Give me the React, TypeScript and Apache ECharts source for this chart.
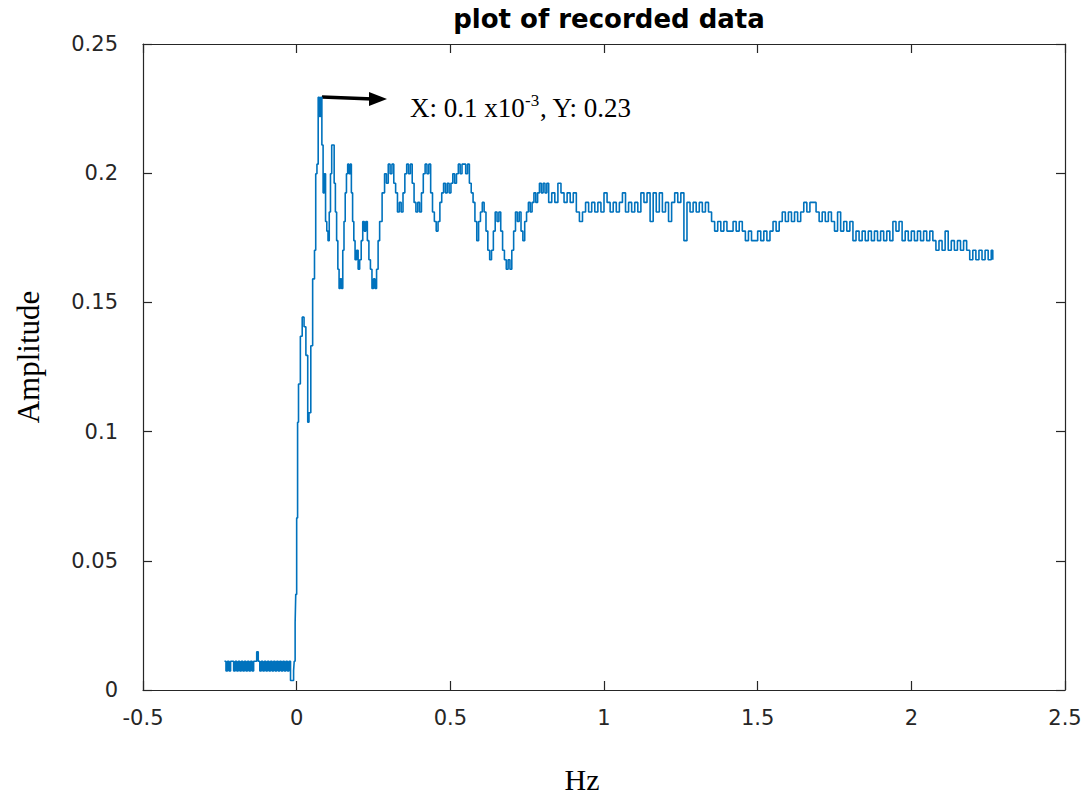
import React, { useEffect, useRef } from "react";
import * as echarts from "echarts";

const titleText = "plot of recorded data";
const xAxisName = "Hz";
const yAxisName = "Amplitude";
const annotationMain = "X: 0.1 x10";
const annotationSup = "-3";
const annotationTail = ", Y: 0.23";

// frequency samples (Hz)
const hz: number[] = [
  -0.235, -0.23, -0.225, -0.22, -0.215, -0.21, -0.205, -0.2, -0.195, -0.19,
  -0.185, -0.18, -0.175, -0.17, -0.165, -0.16, -0.155, -0.15, -0.145, -0.14,
  -0.135, -0.13, -0.125, -0.12, -0.115, -0.11, -0.105, -0.1, -0.095, -0.09,
  -0.085, -0.08, -0.075, -0.07, -0.065, -0.06, -0.055, -0.05, -0.045, -0.04,
  -0.035, -0.03, -0.025, -0.02, -0.015, -0.01, -0.008, -0.005, -0.003, 0.0,
  0.003, 0.006, 0.012, 0.018, 0.024, 0.03, 0.036, 0.04, 0.046, 0.052,
  0.058, 0.062, 0.066, 0.07, 0.074, 0.078, 0.082, 0.086, 0.09, 0.094,
  0.098, 0.102, 0.106, 0.11, 0.114, 0.118, 0.122, 0.126, 0.13, 0.134,
  0.138, 0.142, 0.146, 0.15, 0.154, 0.158, 0.162, 0.166, 0.17, 0.174,
  0.178, 0.182, 0.186, 0.19, 0.195, 0.2, 0.205, 0.21, 0.215, 0.22,
  0.225, 0.23, 0.235, 0.24, 0.245, 0.25, 0.255, 0.26, 0.265, 0.27,
  0.278, 0.286, 0.292, 0.298, 0.304, 0.31, 0.316, 0.322, 0.328, 0.334,
  0.34, 0.346, 0.352, 0.358, 0.364, 0.37, 0.376, 0.382, 0.388, 0.394,
  0.4, 0.406, 0.412, 0.418, 0.424, 0.43, 0.436, 0.442, 0.448, 0.454,
  0.46, 0.466, 0.472, 0.478, 0.484, 0.49, 0.496, 0.502, 0.508, 0.514,
  0.52, 0.526, 0.532, 0.538, 0.544, 0.55, 0.556, 0.562, 0.568, 0.574,
  0.58, 0.586, 0.592, 0.598, 0.604, 0.61, 0.616, 0.622, 0.628, 0.634,
  0.64, 0.646, 0.652, 0.658, 0.664, 0.67, 0.676, 0.682, 0.688, 0.694,
  0.7, 0.706, 0.712, 0.718, 0.724, 0.73, 0.736, 0.742, 0.748, 0.754,
  0.76, 0.766, 0.772, 0.778, 0.784, 0.79, 0.796, 0.802, 0.808, 0.814,
  0.82, 0.83, 0.84, 0.85, 0.86, 0.87, 0.88, 0.89, 0.9, 0.91,
  0.92, 0.93, 0.94, 0.95, 0.96, 0.97, 0.98, 0.99, 1.0, 1.01,
  1.02, 1.03, 1.04, 1.05, 1.06, 1.07, 1.08, 1.09, 1.1, 1.11,
  1.12, 1.13, 1.14, 1.15, 1.16, 1.17, 1.18, 1.19, 1.2, 1.21,
  1.22, 1.23, 1.24, 1.25, 1.26, 1.27, 1.28, 1.29, 1.3, 1.31,
  1.32, 1.33, 1.34, 1.35, 1.36, 1.37, 1.38, 1.39, 1.4, 1.41,
  1.42, 1.43, 1.44, 1.45, 1.46, 1.47, 1.48, 1.49, 1.5, 1.51,
  1.52, 1.53, 1.54, 1.55, 1.56, 1.57, 1.58, 1.59, 1.6, 1.61,
  1.62, 1.63, 1.64, 1.65, 1.66, 1.67, 1.68, 1.69, 1.7, 1.71,
  1.72, 1.73, 1.74, 1.75, 1.76, 1.77, 1.78, 1.79, 1.8, 1.81,
  1.82, 1.83, 1.84, 1.85, 1.86, 1.87, 1.88, 1.89, 1.9, 1.91,
  1.92, 1.93, 1.94, 1.95, 1.96, 1.97, 1.98, 1.99, 2.0, 2.01,
  2.02, 2.03, 2.04, 2.05, 2.06, 2.07, 2.08, 2.09, 2.1, 2.11,
  2.12, 2.13, 2.14, 2.15, 2.16, 2.17, 2.18, 2.19, 2.2, 2.21,
  2.22, 2.23, 2.24, 2.25, 2.26, 2.265,
];

// recorded amplitude at each sample
const amplitude: number[] = [
  0.0111, 0.0074, 0.0111, 0.0074, 0.0111, 0.0111, 0.0074, 0.0111, 0.0074, 0.0111,
  0.0074, 0.0111, 0.0074, 0.0111, 0.0074, 0.0111, 0.0074, 0.0111, 0.0074, 0.0111,
  0.0111, 0.0148, 0.0111, 0.0074, 0.0111, 0.0074, 0.0111, 0.0074, 0.0111, 0.0074,
  0.0111, 0.0074, 0.0111, 0.0074, 0.0111, 0.0074, 0.0111, 0.0074, 0.0111, 0.0074,
  0.0111, 0.0074, 0.0111, 0.0037, 0.0037, 0.0074, 0.0111, 0.0259, 0.037, 0.0666,
  0.1036, 0.1184, 0.1369, 0.1443, 0.1406, 0.1295, 0.1036, 0.1073, 0.1332, 0.1591,
  0.1702, 0.1998, 0.2035, 0.2294, 0.222, 0.2294, 0.2109, 0.1924, 0.1998, 0.1813,
  0.1776, 0.1739, 0.185, 0.1998, 0.2109, 0.2109, 0.1961, 0.185, 0.1739, 0.1628,
  0.1554, 0.1591, 0.1554, 0.1702, 0.1813, 0.1924, 0.1998, 0.2035, 0.1998, 0.2035,
  0.1924, 0.1813, 0.1739, 0.1665, 0.1702, 0.1628, 0.1665, 0.1739, 0.1813, 0.1776,
  0.1813, 0.1739, 0.1665, 0.1628, 0.1554, 0.1591, 0.1554, 0.1628, 0.1739, 0.1813,
  0.1924, 0.1998, 0.1961, 0.2035, 0.1998, 0.2035, 0.1961, 0.1924, 0.185, 0.1887,
  0.185, 0.1924, 0.1998, 0.2035, 0.1998, 0.2035, 0.1961, 0.1887, 0.185, 0.1887,
  0.185, 0.1924, 0.1998, 0.2035, 0.1998, 0.2035, 0.1924, 0.185, 0.1813, 0.1776,
  0.1813, 0.1887, 0.1924, 0.1961, 0.1924, 0.1961, 0.1924, 0.1961, 0.1998, 0.1961,
  0.1998, 0.2035, 0.1998, 0.2035, 0.2035, 0.1998, 0.2035, 0.1961, 0.1924, 0.1887,
  0.1813, 0.1739, 0.1813, 0.185, 0.1887, 0.185, 0.1776, 0.1702, 0.1665, 0.1702,
  0.1776, 0.185, 0.1813, 0.185, 0.1776, 0.1702, 0.1665, 0.1628, 0.1665, 0.1628,
  0.1702, 0.1776, 0.185, 0.1813, 0.185, 0.1776, 0.1739, 0.1813, 0.185, 0.1887,
  0.185, 0.1887, 0.1924, 0.1887, 0.1924, 0.1961, 0.1924, 0.1961, 0.1924, 0.1961,
  0.1887, 0.1924, 0.1887, 0.1961, 0.1924, 0.1887, 0.1924, 0.1887, 0.1924, 0.185,
  0.1813, 0.185, 0.1887, 0.185, 0.1887, 0.185, 0.1887, 0.185, 0.1924, 0.1887,
  0.185, 0.1887, 0.185, 0.1887, 0.1924, 0.185, 0.1887, 0.185, 0.1887, 0.185,
  0.1924, 0.1887, 0.1924, 0.1813, 0.1924, 0.185, 0.1924, 0.185, 0.1887, 0.1813,
  0.1887, 0.1924, 0.1887, 0.1924, 0.1739, 0.1887, 0.185, 0.1887, 0.185, 0.1887,
  0.185, 0.1887, 0.185, 0.1813, 0.1776, 0.1813, 0.1776, 0.1813, 0.1776, 0.1776,
  0.1813, 0.1776, 0.1813, 0.1776, 0.1739, 0.1776, 0.1739, 0.1739, 0.1776, 0.1739,
  0.1776, 0.1739, 0.1776, 0.1813, 0.1776, 0.1813, 0.185, 0.1813, 0.185, 0.1813,
  0.185, 0.1813, 0.185, 0.1887, 0.185, 0.1887, 0.1887, 0.185, 0.1813, 0.185,
  0.1813, 0.185, 0.1813, 0.1776, 0.185, 0.1776, 0.1813, 0.1776, 0.1813, 0.1739,
  0.1776, 0.1739, 0.1776, 0.1739, 0.1776, 0.1739, 0.1776, 0.1739, 0.1776, 0.1739,
  0.1776, 0.1739, 0.1813, 0.1776, 0.1813, 0.1739, 0.1776, 0.1739, 0.1776, 0.1739,
  0.1776, 0.1739, 0.1776, 0.1739, 0.1776, 0.1739, 0.1702, 0.1739, 0.1702, 0.1776,
  0.1702, 0.1739, 0.1702, 0.1739, 0.1702, 0.1739, 0.1702, 0.1665, 0.1702, 0.1665,
  0.1702, 0.1665, 0.1702, 0.1665, 0.1702, 0.1665,
];

const xTicks = { min: -0.5, max: 2.5, interval: 0.5 };
const yTicks = { min: 0, max: 0.25, interval: 0.05 };

export default function App() {
  const ref = useRef<HTMLDivElement>(null);
  useEffect(() => {
    if (!ref.current) return;
    const chart = echarts.init(ref.current, null, { renderer: "svg" });
    const points = hz.map((x, i) => [x, amplitude[i]]);
    const axisColor = "#262626";
    const labelFont = "'DejaVu Sans', Arial, sans-serif";
    const serif = "'Liberation Serif', 'Times New Roman', serif";
    const lineStyle = { color: axisColor, width: 1.2 };
    const tick = { show: true, inside: true, length: 9, lineStyle };
    const hiddenAxisCommon = {
      axisLine: { show: true, onZero: false, lineStyle },
      axisTick: tick,
      axisLabel: { show: false },
      splitLine: { show: false },
    };
    chart.setOption({
      animation: false,
      backgroundColor: "#ffffff",
      title: {
        text: titleText,
        left: 604,
        top: 1,
        textAlign: "center",
        textStyle: { fontFamily: labelFont, fontWeight: "bold", fontSize: 26, color: "#000" },
      },
      grid: { left: 143, right: 27, top: 44, bottom: 111 },
      xAxis: [
        {
          type: "value",
          ...xTicks,
          name: xAxisName,
          nameLocation: "middle",
          nameGap: 74,
          nameTextStyle: { fontFamily: serif, fontSize: 30, color: "#000", padding: [0, 44, 0, 0] },
          axisLine: { show: true, onZero: false, lineStyle },
          axisTick: tick,
          axisLabel: { fontFamily: labelFont, fontSize: 21, color: "#262626", margin: 17 },
          splitLine: { show: false },
        },
        { type: "value", position: "top", ...xTicks, ...hiddenAxisCommon },
      ],
      yAxis: [
        {
          type: "value",
          ...yTicks,
          name: yAxisName,
          nameLocation: "middle",
          nameGap: 99,
          nameTextStyle: { fontFamily: serif, fontSize: 31, color: "#000", padding: [0, 0, 0, 20] },
          axisLine: { show: true, onZero: false, lineStyle },
          axisTick: tick,
          axisLabel: { fontFamily: labelFont, fontSize: 21, color: "#262626", margin: 25 },
          splitLine: { show: false },
        },
        { type: "value", position: "right", ...yTicks, ...hiddenAxisCommon },
      ],
      series: [
        {
          type: "line",
          data: points,
          step: "end",
          showSymbol: false,
          lineStyle: { color: "#0072BD", width: 1.6 },
          xAxisIndex: 0,
          yAxisIndex: 0,
        },
      ],
      graphic: [
        {
          type: "line",
          shape: { x1: 322, y1: 97, x2: 373, y2: 99 },
          style: { stroke: "#000", lineWidth: 3.5 },
        },
        {
          type: "polygon",
          shape: { points: [[369, 92], [387, 99], [369, 106]] },
          style: { fill: "#000" },
        },
        {
          type: "text",
          x: 410,
          y: 108,
          style: { text: annotationMain, font: `27px ${serif}`, fill: "#000", verticalAlign: "middle" },
        },
        {
          type: "text",
          x: 525,
          y: 100,
          style: { text: annotationSup, font: `17px ${serif}`, fill: "#000", verticalAlign: "middle" },
        },
        {
          type: "text",
          x: 540,
          y: 108,
          style: { text: annotationTail, font: `27px ${serif}`, fill: "#000", verticalAlign: "middle" },
        },
      ],
    });
    return () => chart.dispose();
  }, []);
  return <div ref={ref} style={{ width: 1092, height: 801, margin: -8 }} />;
}
